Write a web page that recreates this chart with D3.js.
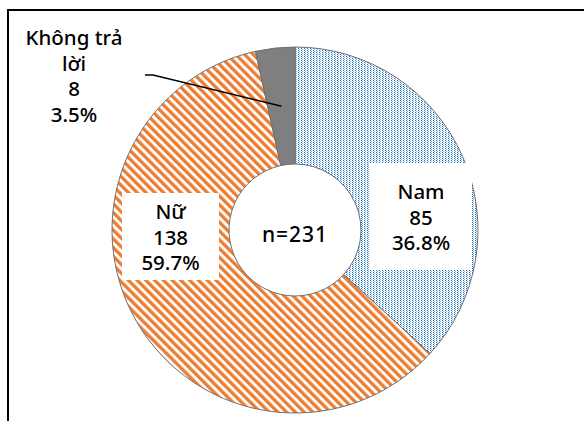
<!DOCTYPE html>
<html>
<head>
<meta charset="utf-8">
<script src="https://cdn.jsdelivr.net/npm/d3@7"></script>
<style>
  body { margin: 0; background: #fff; }
  text { font-family: "Noto Sans", "DejaVu Sans", sans-serif; fill: #000; font-weight: 500; }
</style>
</head>
<body>
<div id="chart"></div>
<script>
;(function () {
  // data
  const categories = ["Nam", "Nữ", "Không trả lời"]
  const counts = [85, 138, 8]
  const total = 231
  // label lines as shown in the picture
  const labelNames = [["Nam"], ["Nữ"], ["Không trả", "lời"]]

  const width = 584
  const height = 421
  const cx = 295, cy = 230
  const outerR = 183, innerR = 66
  const lineH = 25.5

  const fmtPct = d3.format(".1%")

  const svg = d3.select("#chart")
    .append("svg")
    .attr("width", width)
    .attr("height", height)

  const defs = svg.append("defs")

  // blue dotted pattern (Nam)
  const dots = defs.append("pattern")
    .attr("id", "dots")
    .attr("patternUnits", "userSpaceOnUse")
    .attr("width", 3).attr("height", 2)
  dots.append("rect").attr("width", 3).attr("height", 2).attr("fill", "#ffffff")
  dots.append("rect").attr("x", 0).attr("y", 0).attr("width", 1).attr("height", 1).attr("fill", "#1570c2")
  dots.append("rect").attr("x", 1).attr("y", 1).attr("width", 1).attr("height", 1).attr("fill", "#7fb2e3")

  // orange diagonal stripes (Nữ), running top-left to bottom-right
  const stripes = defs.append("pattern")
    .attr("id", "stripes")
    .attr("patternUnits", "userSpaceOnUse")
    .attr("width", 6.2).attr("height", 10)
    .attr("patternTransform", "rotate(-45)")
  stripes.append("rect").attr("width", 6.2).attr("height", 10).attr("fill", "#ffffff")
  stripes.append("rect").attr("width", 3.3).attr("height", 10).attr("fill", "#ed7d31")

  const fills = ["url(#dots)", "url(#stripes)", "#7f7f7f"]

  // frame
  svg.append("path")
    .attr("d", `M8,${height} L8,10 L${width},10`)
    .attr("fill", "none")
    .attr("stroke", "#000")
    .attr("stroke-width", 2)

  const pie = d3.pie().sort(null).value(d => d)
  const arcs = pie(counts)
  const arc = d3.arc().innerRadius(innerR).outerRadius(outerR)

  const g = svg.append("g").attr("transform", `translate(${cx},${cy})`)

  g.selectAll("path.slice")
    .data(arcs)
    .join("path")
    .attr("class", "slice")
    .attr("d", arc)
    .attr("fill", (d, i) => fills[i])
    .attr("stroke", "#6f6f6f")
    .attr("stroke-width", 1)

  // center text
  g.append("text")
    .attr("text-anchor", "middle")
    .attr("y", 12)
    .style("font-size", "21px")
    .style("letter-spacing", "1px")
    .text("n=" + total)

  // label layout: box + text center, first baseline
  const labelLayout = [
    { box: [370, 163, 102, 107], x: 421, y: 199 },
    { box: [122, 193, 97, 87], x: 170.5, y: 219 },
    { box: null, x: 74, y: 45 }
  ]

  categories.forEach((c, i) => {
    const L = labelLayout[i]
    if (L.box) {
      svg.append("rect")
        .attr("x", L.box[0]).attr("y", L.box[1])
        .attr("width", L.box[2]).attr("height", L.box[3])
        .attr("fill", "#fff")
    }
    const lines = labelNames[i].concat([String(counts[i]), fmtPct(counts[i] / total)])
    const t = svg.append("text")
      .attr("text-anchor", "middle")
      .style("font-size", "20.5px")
    lines.forEach((s, k) => {
      t.append("tspan")
        .attr("x", L.x)
        .attr("y", L.y + k * lineH)
        .text(s)
    })
  })

  // leader line for the small slice
  const c = arc.centroid(arcs[2])
  svg.append("path")
    .attr("d", `M145,75 L153,75 L${cx + c[0]},${cy + c[1]}`)
    .attr("fill", "none")
    .attr("stroke", "#000")
    .attr("stroke-width", 1.5)
})()
</script>
</body>
</html>
